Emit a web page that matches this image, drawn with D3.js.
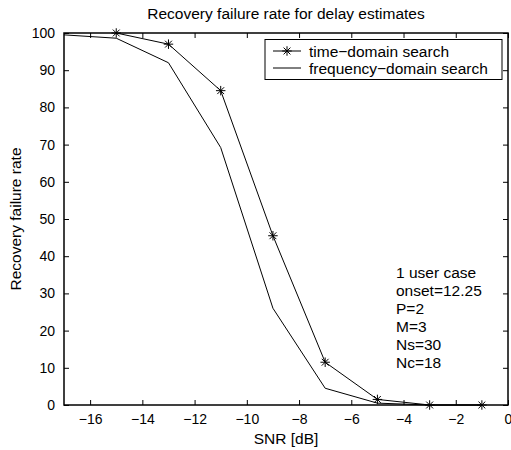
<!DOCTYPE html>
<html>
<head>
<meta charset="utf-8">
<script src="https://cdn.jsdelivr.net/npm/d3@7"></script>
<style>
  body { margin: 0; background: #fff; }
  text { font-family: "Liberation Sans", Arial, sans-serif; fill: #000; }
</style>
</head>
<body>
<div id="chart"></div>
<script>
// SNR values [dB]
const snrTime = [-15, -13, -11, -9, -7, -5, -3, -1];
const timeDomain = [100, 97, 84.5, 45.5, 11.5, 1.5, 0, 0];
const snrFreq = [-17, -15, -13, -11, -9, -7, -5, -3, -1];
const freqDomain = [99.5, 98.6, 92, 69.2, 26, 4.5, 0.5, 0, 0];
const xTicks = [-16, -14, -12, -10, -8, -6, -4, -2, 0];
const yTicks = [0, 10, 20, 30, 40, 50, 60, 70, 80, 90, 100];
const notes = ["1 user case", "onset=12.25", "P=2", "M=3", "Ns=30", "Nc=18"];

const width = 511, height = 450;
const mLeft = 64, mRight = 508, mTop = 33, mBottom = 405;
const labelSize = 15.5, tickSize = 14;

const svg = d3.select("#chart").append("svg")
    .attr("width", width)
    .attr("height", height);

const x = d3.scaleLinear().domain([-17, 0]).range([mLeft, mRight]);
const y = d3.scaleLinear().domain([0, 100]).range([mBottom, mTop]);

// axes with inward ticks, on all four sides
const tickLen = 5;
svg.append("g")
    .attr("transform", `translate(0,${mBottom})`)
    .call(d3.axisBottom(x).tickValues(xTicks).tickSizeInner(-tickLen).tickSizeOuter(0)
        .tickPadding(9).tickFormat(d => d === 0 ? "0" : "\u2212" + Math.abs(d)))
    .call(g => g.select(".domain").remove())
    .call(g => g.selectAll("text").attr("font-size", tickSize));
svg.append("g")
    .attr("transform", `translate(0,${mTop})`)
    .call(d3.axisTop(x).tickValues(xTicks).tickSizeInner(-tickLen).tickSizeOuter(0).tickFormat(""))
    .call(g => g.select(".domain").remove());
svg.append("g")
    .attr("transform", `translate(${mLeft},0)`)
    .call(d3.axisLeft(y).tickValues(yTicks).tickSizeInner(-tickLen).tickSizeOuter(0).tickPadding(9))
    .call(g => g.select(".domain").remove())
    .call(g => g.selectAll("text").attr("font-size", tickSize));
svg.append("g")
    .attr("transform", `translate(${mRight},0)`)
    .call(d3.axisRight(y).tickValues(yTicks).tickSizeInner(-tickLen).tickSizeOuter(0).tickFormat(""))
    .call(g => g.select(".domain").remove());

svg.selectAll(".tick line").attr("stroke", "#000");

svg.append("rect")
    .attr("x", mLeft).attr("y", mTop)
    .attr("width", mRight - mLeft).attr("height", mBottom - mTop)
    .attr("fill", "none").attr("stroke", "#000").attr("stroke-width", 1.5);

const line = d3.line().x(d => x(d[0])).y(d => y(d[1]));
const freqPts = snrFreq.map((s, i) => [s, freqDomain[i]]);
const timePts = snrTime.map((s, i) => [s, timeDomain[i]]);

svg.append("path").attr("d", line(freqPts))
    .attr("fill", "none").attr("stroke", "#000").attr("stroke-width", 1);
svg.append("path").attr("d", line(timePts))
    .attr("fill", "none").attr("stroke", "#000").attr("stroke-width", 1);

// matlab-like '*' marker: a plus and a cross
const starType = {
    draw(ctx, size) {
        const r = Math.sqrt(size) / 2, d = r * 0.72;
        ctx.moveTo(-r, 0); ctx.lineTo(r, 0);
        ctx.moveTo(0, -r); ctx.lineTo(0, r);
        ctx.moveTo(-d, -d); ctx.lineTo(d, d);
        ctx.moveTo(-d, d); ctx.lineTo(d, -d);
    }
};
const star = d3.symbol().type(starType).size(90);
svg.selectAll(".star").data(timePts).enter().append("path")
    .attr("class", "star")
    .attr("d", star)
    .attr("transform", d => `translate(${x(d[0])},${y(d[1])})`)
    .attr("fill", "none").attr("stroke", "#000").attr("stroke-width", 1);

// title and labels
svg.append("text").attr("x", (mLeft + mRight) / 2).attr("y", 19)
    .attr("text-anchor", "middle").attr("font-size", labelSize)
    .text("Recovery failure rate for delay estimates");
svg.append("text").attr("x", (mLeft + mRight) / 2).attr("y", 444)
    .attr("text-anchor", "middle").attr("font-size", labelSize)
    .text("SNR [dB]");
svg.append("text")
    .attr("transform", `translate(21,${(mTop + mBottom) / 2}) rotate(-90)`)
    .attr("text-anchor", "middle").attr("font-size", labelSize)
    .text("Recovery failure rate");

// legend
const lg = svg.append("g");
lg.append("rect").attr("x", 265).attr("y", 39.5).attr("width", 237).attr("height", 40)
    .attr("fill", "#fff").attr("stroke", "#000").attr("stroke-width", 1);
const legendRows = [{ name: "time\u2212domain search", star: true },
                    { name: "frequency\u2212domain search", star: false }];
legendRows.forEach((r, i) => {
    const yy = 51 + i * 17;
    lg.append("line").attr("x1", 273).attr("x2", 301).attr("y1", yy).attr("y2", yy)
        .attr("stroke", "#000");
    if (r.star) {
        lg.append("path").attr("d", star).attr("transform", `translate(287,${yy})`)
            .attr("fill", "none").attr("stroke", "#000");
    }
    lg.append("text").attr("x", 309).attr("y", yy + 5.5).attr("font-size", labelSize).text(r.name);
});

// annotation
svg.selectAll(".note").data(notes).enter().append("text")
    .attr("class", "note")
    .attr("x", 396).attr("y", (d, i) => 277.5 + i * 18)
    .attr("font-size", labelSize)
    .text(d => d);
</script>
</body>
</html>
